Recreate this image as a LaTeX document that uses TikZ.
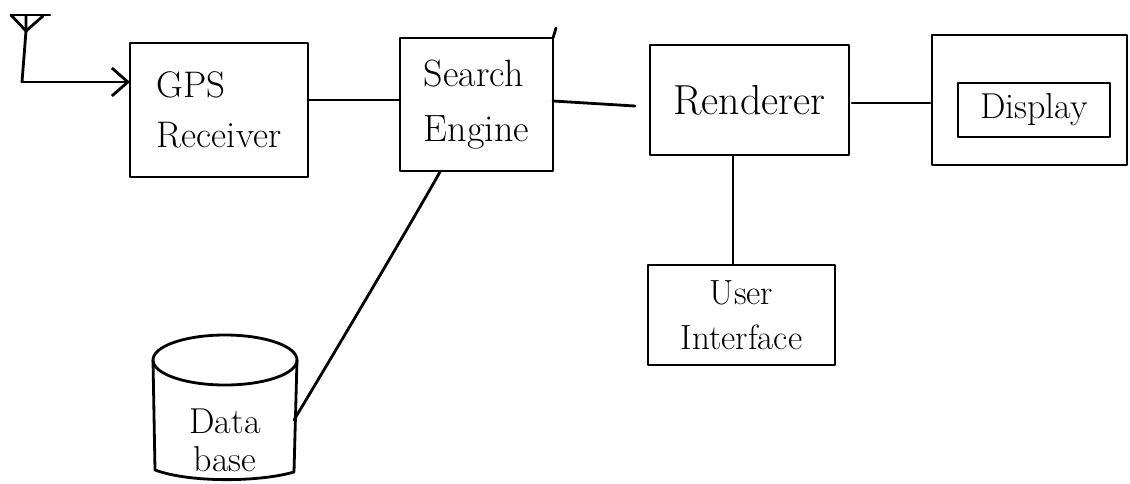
\documentclass[tikz,border=0pt]{standalone}
\usetikzlibrary{arrows.meta}
\begin{document}
\begin{tikzpicture}[x=1pt,y=-1pt,
  ink/.style={line width=2.8pt, line cap=round, line join=round},
  blockbox/.style={ink, draw, inner sep=0pt, outer sep=0pt},
  hand/.style={font=\fontsize{36}{50}\selectfont},
]
\useasboundingbox (0,0) rectangle (1130,483);
\fill[white] (0,0) rectangle (1130,483);

% antenna
\coordinate (antL) at (11,15);
\coordinate (antR) at (50,15);
\coordinate (antV) at (26,31);
\coordinate (antC) at (26,15);
\coordinate (antFoot) at (22,82);
\draw[ink] (antL) -- (antR);
\draw[ink] (antL) -- (antV) -- (43,16);
\draw[ink] (antC) -- (antV) -- (antFoot);

% blocks
\node[blockbox, hand, align=left, minimum width=178pt, minimum height=134pt,
  font=\fontsize{37}{50}\selectfont] (gps) at (219,110) {GPS\\Receiver};
\node[blockbox, hand, align=left, minimum width=153pt, minimum height=133pt,
  font=\fontsize{38}{55}\selectfont] (se) at (476.5,104.5) {Search\\Engine};
\node[blockbox, hand, minimum width=199pt, minimum height=110pt,
  font=\fontsize{42}{50}\selectfont] (re) at (749.5,100) {Renderer};
\node[blockbox, minimum width=195pt, minimum height=130pt] (dispout) at (1029.5,100) {};
\node[blockbox, hand, minimum width=152pt, minimum height=54pt] (disp) at (1034,110) {Display};
\node[blockbox, hand, align=center, minimum width=187pt, minimum height=100pt,
  font=\fontsize{35}{45}\selectfont] (ui) at (741.5,315) {User\\Interface};

% small overshoot of the search engine's right edge
\draw[ink] (se.north east) -- ++(3,-10);

% database cylinder
\draw[ink] (225,360) ellipse [x radius=72, y radius=25];
\draw[ink] (153,360) -- (155,470) .. controls (190,483) and (260,482) .. (294,472) -- (297,360);
\node[hand, align=center, font=\fontsize{36}{38}\selectfont] (db) at (225,440) {Data\\base};
\coordinate (dbport) at (294,420);

% connectors
\draw[ink, -{Straight Barb[length=16pt,width=28pt,line width=2.8pt]}] (antFoot) -- (gps.west |- 0,82);
\draw[ink] (gps.east |- 0,100) -- (se.west |- 0,100);
\draw[ink] (se.east |- 0,101) -- ([xshift=-15pt]re.west |- 0,106);
\draw[ink] ([xshift=3pt]re.east |- 0,103) -- ([xshift=-2pt]dispout.west |- 0,103);
\draw[ink] (re.south -| 733,0) -- (ui.north -| 733,0);
\draw[ink] ([xshift=-36pt]se.south) .. controls (410,225) and (345,335) .. (dbport);
\end{tikzpicture}
\end{document}
